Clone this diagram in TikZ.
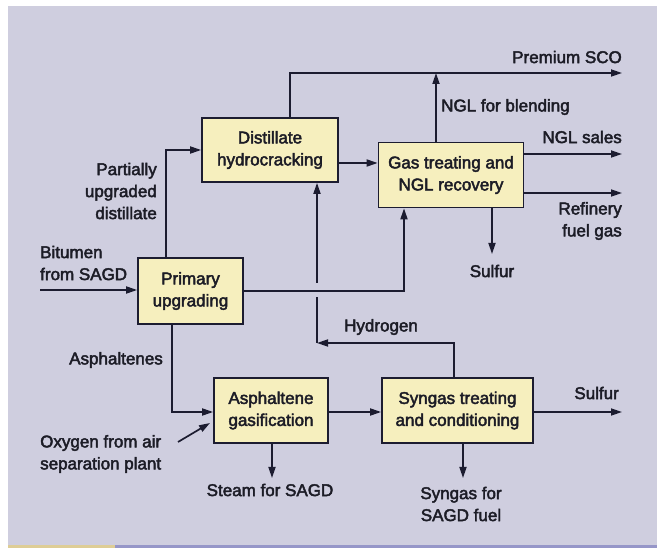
\documentclass[tikz,border=0pt]{standalone}
\usepackage{fontspec}
\setmainfont{Liberation Sans}[FakeBold=2.6]
\usetikzlibrary{arrows.meta}
\definecolor{bgc}{RGB}{207,206,223}
\definecolor{boxc}{RGB}{246,239,190}
\definecolor{linec}{RGB}{28,28,48}
\definecolor{txtc}{RGB}{28,28,38}
\definecolor{stripy}{RGB}{222,205,150}
\definecolor{stripb}{RGB}{150,150,200}
\tikzset{
  pbox/.style={draw=linec, line width=1.7pt, fill=boxc, text=txtc, align=center, inner sep=0pt,
    font=\fontsize{17}{22}\selectfont},
  flow/.style={draw=linec, line width=1.7pt, -{Triangle[length=11pt,width=7pt]}},
  pline/.style={draw=linec, line width=1.7pt},
  lbl/.style={text=txtc, inner sep=0pt, font=\fontsize{17}{22}\selectfont}
}
\begin{document}
\begin{tikzpicture}[x=1pt,y=-1pt]
\useasboundingbox (0,0) rectangle (657,548);
\fill[white] (0,0) rectangle (657,548);
\fill[bgc] (8,6) rectangle (657,545);
\fill[stripy] (8,545) rectangle (115,548);
\fill[stripb] (115,545) rectangle (657,548);

% boxes
\node[pbox, minimum width=136pt, minimum height=64pt] (hc) at (270,150) {Distillate\\hydrocracking};
\node[pbox, minimum width=145pt, minimum height=65pt] (gas) at (451,175) {Gas treating and\\NGL recovery};
\node[pbox, minimum width=105pt, minimum height=66pt] (prim) at (190.5,291) {Primary\\upgrading};
\node[pbox, minimum width=114pt, minimum height=65pt] (asg) at (271,410.5) {Asphaltene\\gasification};
\node[pbox, minimum width=151pt, minimum height=65pt] (syn) at (457.5,410.5) {Syngas treating\\and conditioning};

% free-end coordinates
\coordinate (sco) at (622,73);
\coordinate (ngls) at (622,154);
\coordinate (rfg) at (622,193);
\coordinate (sulf1) at (492,254);
\coordinate (bit) at (40,290);
\coordinate (sulf2) at (622,412);
\coordinate (steam) at (272,478);
\coordinate (sgf) at (463,478);
\coordinate (oxy) at (178,442);
\coordinate (oxyend) at (210,423);
\coordinate (h2a) at (317,343);
\coordinate (h2b) at (317,297);
\coordinate (h2c) at (317,283);

% connectors
\draw[flow] (hc.north -| 290,0) |- (sco);
\draw[flow] (gas.north -| 436,0) -- (436,73);
\draw[flow] (gas.east |- 0,154) -- (ngls);
\draw[flow] (gas.east |- 0,193) -- (rfg);
\draw[flow] (gas.south -| sulf1) -- (sulf1);
\draw[flow] (hc.east |- 0,163) -- (gas.west |- 0,163);
\draw[flow] (prim.north -| 166,0) |- (hc.west |- 0,150);
\draw[flow] (bit) -- (prim.west |- bit);
\draw[flow] (prim.east |- 0,291) -| (gas.south -| 404,0);
\draw[flow] (syn.north -| 454,0) |- (h2a);
\draw[pline] (h2a) -- (h2b);
\draw[flow] (h2c) -- (hc.south -| h2c);
\draw[flow] (prim.south -| 172,0) |- (asg.west |- 0,412);
\draw[flow] (oxy) -- (oxyend);
\draw[flow] (asg.east |- 0,412) -- (syn.west |- 0,412);
\draw[flow] (syn.east |- 0,412) -- (sulf2);
\draw[flow] (asg.south -| steam) -- (steam);
\draw[flow] (syn.south -| sgf) -- (sgf);

% labels
\node[lbl, anchor=east] (l1) at (622,57) {Premium SCO};
\node[lbl, anchor=west] (l2) at (441,107) {NGL for blending};
\node[lbl, anchor=east] (l3) at (622,137) {NGL sales};
\node[lbl, anchor=east, align=right] (l4) at (622,221) {Refinery\\fuel gas};
\node[lbl] (l5) at (492,271) {Sulfur};
\node[lbl, anchor=east, align=right] (l6) at (157,191) {Partially\\upgraded\\distillate};
\node[lbl, anchor=west, align=left] (l7) at (40,263) {Bitumen\\from SAGD};
\node[lbl] (l8) at (381,327) {Hydrogen};
\node[lbl, anchor=east] (l9) at (163,360) {Asphaltenes};
\node[lbl, anchor=west, align=left] (l10) at (40,454) {Oxygen from air\\separation plant};
\node[lbl, anchor=east] (l11) at (619,393) {Sulfur};
\node[lbl] (l12) at (270,490) {Steam for SAGD};
\node[lbl, align=center] (l13) at (461,504) {Syngas for\\SAGD fuel};
\end{tikzpicture}
\end{document}
